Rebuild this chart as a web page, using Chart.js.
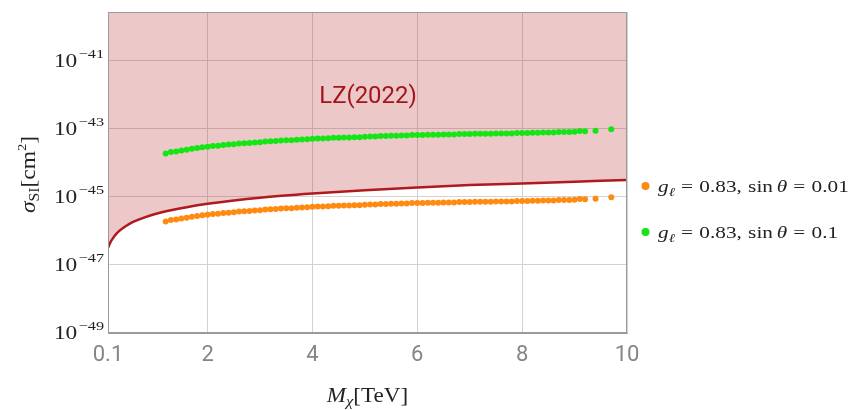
<!DOCTYPE html>
<html>
<head>
<meta charset="utf-8">
<script src="https://cdn.jsdelivr.net/npm/chart.js@4.4.1/dist/chart.umd.min.js"></script>
<style>
  html, body { margin: 0; padding: 0; background: #fff; }
  #wrap { width: 859px; height: 410px; }
</style>
</head>
<body>
<div id="wrap"><canvas id="myChart" width="859" height="410"></canvas></div>
<script>
// LZ (2022) exclusion curve: dark matter mass [TeV] vs log10(sigma_SI / cm^2)
const lzMass = [0.1, 0.12, 0.15, 0.2, 0.25, 0.3, 0.4, 0.5, 0.6, 0.8, 1.0, 1.3, 1.6, 2.0, 2.5, 3.0, 4.0, 5.0, 6.0, 7.0, 8.0, 9.0, 10.0];
const lzExp = [-46.50, -46.42, -46.32, -46.20, -46.10, -46.02, -45.90, -45.80, -45.72, -45.60, -45.50, -45.39, -45.30, -45.20, -45.10, -45.02, -44.90, -44.80, -44.72, -44.65, -44.60, -44.55, -44.50];

// scan points (same masses for both couplings)
const scanMass = [
  1.2, 1.3, 1.4, 1.5, 1.6, 1.7, 1.8, 1.9, 2.0, 2.1, 2.2, 2.3, 2.4, 2.5, 2.6, 2.7, 2.8, 2.9, 3.0,
  3.1, 3.2, 3.3, 3.4, 3.5, 3.6, 3.7, 3.8, 3.9, 4.0, 4.1, 4.2, 4.3, 4.4, 4.5, 4.6, 4.7, 4.8, 4.9, 5.0,
  5.1, 5.2, 5.3, 5.4, 5.5, 5.6, 5.7, 5.8, 5.9, 6.0, 6.1, 6.2, 6.3, 6.4, 6.5, 6.6, 6.7, 6.8, 6.9, 7.0,
  7.1, 7.2, 7.3, 7.4, 7.5, 7.6, 7.7, 7.8, 7.9, 8.0, 8.1, 8.2, 8.3, 8.4, 8.5, 8.6, 8.7, 8.8, 8.9, 9.0,
  9.1, 9.2, 9.4, 9.7
];
// g_l = 0.83, sin(theta) = 0.01
const orangeExp = [
  -45.72, -45.68, -45.66, -45.63, -45.61, -45.58, -45.56, -45.54, -45.52, -45.50, -45.49, -45.47, -45.46, -45.45, -45.43, -45.42, -45.41, -45.40, -45.39,
  -45.37, -45.36, -45.35, -45.34, -45.33, -45.33, -45.32, -45.31, -45.30, -45.29, -45.28, -45.28, -45.27, -45.26, -45.26, -45.25, -45.25, -45.24, -45.24, -45.23,
  -45.22, -45.22, -45.21, -45.21, -45.20, -45.20, -45.19, -45.19, -45.18, -45.18, -45.18, -45.17, -45.17, -45.17, -45.16, -45.16, -45.16, -45.15, -45.15, -45.15,
  -45.14, -45.14, -45.14, -45.14, -45.13, -45.13, -45.13, -45.13, -45.12, -45.12, -45.12, -45.11, -45.11, -45.10, -45.10, -45.10, -45.09, -45.09, -45.09, -45.08,
  -45.06, -45.07, -45.05, -45.01
];
// g_l = 0.83, sin(theta) = 0.1
const greenExp = [
  -43.72, -43.68, -43.66, -43.63, -43.61, -43.58, -43.56, -43.54, -43.52, -43.50, -43.49, -43.47, -43.46, -43.45, -43.43, -43.42, -43.41, -43.40, -43.39,
  -43.37, -43.36, -43.35, -43.34, -43.33, -43.33, -43.32, -43.31, -43.30, -43.29, -43.28, -43.28, -43.27, -43.26, -43.26, -43.25, -43.25, -43.24, -43.24, -43.23,
  -43.22, -43.22, -43.21, -43.21, -43.20, -43.20, -43.19, -43.19, -43.18, -43.18, -43.18, -43.17, -43.17, -43.17, -43.16, -43.16, -43.16, -43.15, -43.15, -43.15,
  -43.14, -43.14, -43.14, -43.14, -43.13, -43.13, -43.13, -43.13, -43.12, -43.12, -43.12, -43.11, -43.11, -43.10, -43.10, -43.10, -43.09, -43.09, -43.09, -43.08,
  -43.06, -43.07, -43.05, -43.01
];

const xTicks = [0.1, 2, 4, 6, 8, 10];
const xTickLabels = ['0.1', '2', '4', '6', '8', '10'];
const yTickExps = [-49, -47, -45, -43, -41];
const yTickLabels = ['\u221249', '\u221247', '\u221245', '\u221243', '\u221241'];
const lzLabel = { text: 'LZ(2022)', x: 5.06, exp: -42.1 };

const serif = '"Liberation Serif", "DejaVu Serif", serif';
const orange = '#ff8a10';
const green = '#14e614';

function toPoints(xs, exps) {
  return xs.map((x, i) => ({ x: x, y: Math.pow(10, exps[i]) }));
}

// draw a row of text pieces (for sub/superscripts) on one baseline,
// sx widens the glyphs horizontally
function drawRuns(ctx, runs, x, y, align, sx) {
  sx = sx || 1;
  let total = 0;
  runs.forEach(r => {
    ctx.font = r.font;
    r.w = ctx.measureText(r.t).width + (r.gap || 0);
    total += r.w;
  });
  let start = x;
  if (align === 'right') start = x - total * sx;
  if (align === 'center') start = x - total * sx / 2;
  ctx.save();
  ctx.translate(start, y);
  ctx.scale(sx, 1);
  let cx = 0;
  runs.forEach(r => {
    ctx.font = r.font;
    ctx.fillText(r.t, cx, r.dy || 0);
    cx += r.w;
  });
  ctx.restore();
}

const decorations = {
  id: 'decorations',
  afterDraw(chart) {
    const ctx = chart.ctx;
    const area = chart.chartArea;
    const xs = chart.scales.x;
    const ys = chart.scales.y;
    ctx.save();
    ctx.textBaseline = 'alphabetic';
    ctx.textAlign = 'left';

    // frame
    ctx.strokeStyle = '#9a9a9a';
    ctx.lineWidth = 1;
    ctx.strokeRect(area.left + 0.5, area.top + 0.5, area.right - area.left - 1, area.bottom - area.top - 1);

    // y tick labels 10^n
    ctx.fillStyle = '#222';
    yTickExps.forEach((e, i) => {
      const py = ys.getPixelForValue(Math.pow(10, e));
      drawRuns(ctx, [
        { t: '10', font: '18px ' + serif, gap: 1 },
        { t: yTickLabels[i], font: '12.5px ' + serif, dy: -9 }
      ], area.left - 4, py + 6, 'right', 1.3);
    });

    // LZ label
    ctx.fillStyle = '#a3141b';
    drawRuns(ctx, [{ t: lzLabel.text, font: '23px Roboto, "Liberation Sans", sans-serif' }],
      xs.getPixelForValue(lzLabel.x), ys.getPixelForValue(Math.pow(10, lzLabel.exp)) + 5, 'center', 1.04);

    // axis titles
    ctx.fillStyle = '#222';
    drawRuns(ctx, [
      { t: 'M', font: 'italic 21px ' + serif },
      { t: '\u03c7', font: 'italic 15px ' + serif, dy: 4 },
      { t: '[TeV]', font: '21px ' + serif }
    ], (area.left + area.right) / 2, 402, 'center', 1.1);

    ctx.save();
    ctx.translate(35, (area.top + area.bottom) / 2 + 2);
    ctx.rotate(-Math.PI / 2);
    drawRuns(ctx, [
      { t: '\u03c3', font: 'italic 21px ' + serif },
      { t: 'SI', font: '14px ' + serif, dy: 4 },
      { t: '[cm', font: '21px ' + serif },
      { t: '2', font: '13px ' + serif, dy: -9 },
      { t: ']', font: '21px ' + serif }
    ], 0, 0, 'center', 1.12);
    ctx.restore();

    // legend
    const legendRows = [
      { color: orange, value: '0.01', y: 186 },
      { color: green, value: '0.1', y: 232 }
    ];
    legendRows.forEach(row => {
      ctx.fillStyle = row.color;
      ctx.beginPath();
      ctx.arc(645.5, row.y, 4, 0, Math.PI * 2);
      ctx.fill();
      ctx.fillStyle = '#222';
      drawRuns(ctx, [
        { t: 'g', font: 'italic 17px ' + serif },
        { t: '\u2113', font: 'italic 12px ' + serif, dy: 4, gap: 5 },
        { t: '=', font: '17px ' + serif, gap: 5 },
        { t: '0.83,', font: '17px ' + serif, gap: 5 },
        { t: 'sin', font: '17px ' + serif, gap: 3 },
        { t: '\u03b8', font: 'italic 17px ' + serif, gap: 5 },
        { t: '=', font: '17px ' + serif, gap: 5 },
        { t: row.value, font: '17px ' + serif }
      ], 658, row.y + 6, 'left', 1.25);
    });
    ctx.restore();
  }
};

const ctx = document.getElementById('myChart').getContext('2d');
const myChart = new Chart(ctx, {
  type: 'scatter',
  data: {
    datasets: [
      {
        label: 'LZ(2022)',
        data: toPoints(lzMass, lzExp),
        showLine: true,
        borderColor: '#b01a1e',
        borderWidth: 2.5,
        backgroundColor: 'rgba(178, 36, 36, 0.25)',
        fill: 'end',
        pointRadius: 0,
        cubicInterpolationMode: 'monotone',
        order: 3
      },
      {
        label: 'sin 0.01',
        data: toPoints(scanMass, orangeExp),
        backgroundColor: orange,
        borderWidth: 0,
        pointRadius: 3,
        order: 1
      },
      {
        label: 'sin 0.1',
        data: toPoints(scanMass, greenExp),
        backgroundColor: green,
        borderWidth: 0,
        pointRadius: 3,
        order: 1
      }
    ]
  },
  options: {
    responsive: false,
    animation: false,
    layout: { padding: { left: 0, top: 12, right: 232, bottom: 0 } },
    plugins: { legend: { display: false }, tooltip: { enabled: false } },
    scales: {
      x: {
        type: 'linear',
        min: 0.1,
        max: 10,
        afterBuildTicks: scale => { scale.ticks = xTicks.map(v => ({ value: v })); },
        afterFit: scale => { scale.height = 77; },
        ticks: {
          callback: (v, i) => xTickLabels[i],
          color: '#858585',
          font: { family: 'Roboto, "Liberation Sans", sans-serif', size: 22 },
          padding: 9,
          maxRotation: 0
        },
        grid: { color: '#d2d2d2', drawTicks: false },
        border: { color: '#9a9a9a' }
      },
      y: {
        type: 'logarithmic',
        min: 1e-49,
        max: Math.pow(10, -39.56),
        afterBuildTicks: scale => { scale.ticks = yTickExps.map(e => ({ value: Math.pow(10, e) })); },
        afterFit: scale => { scale.width = 108; },
        ticks: { display: false },
        grid: { color: '#d2d2d2', drawTicks: false },
        border: { color: '#9a9a9a' }
      }
    }
  },
  plugins: [decorations]
});
</script>
</body>
</html>
